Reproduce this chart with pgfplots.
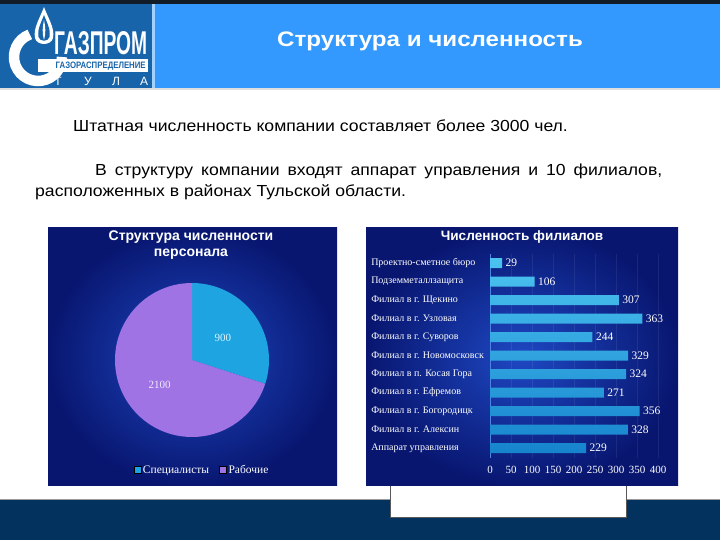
\documentclass[border=0pt]{standalone}
\usepackage{fontspec}
\setmainfont{Liberation Sans}
\newfontfamily\serifc{Liberation Serif}
\usepackage{pgfplots}
\usepackage{pgfplotstable}
\pgfplotsset{compat=1.18}

\definecolor{hdrdark}{RGB}{18,28,40}
\definecolor{logoblue}{RGB}{24,100,170}
\definecolor{hdrblue}{RGB}{51,153,255}
\definecolor{navy}{RGB}{4,50,95}
\definecolor{chartin}{RGB}{30,72,195}
\definecolor{chartout}{RGB}{8,22,112}
\definecolor{pcyan}{RGB}{30,165,225}
\definecolor{ppurple}{RGB}{160,115,228}
\definecolor{bartop}{RGB}{75,195,240}
\definecolor{barbot}{RGB}{22,132,205}
\definecolor{axblue}{RGB}{80,130,230}

% staff structure
\def\spec{900}
\def\work{2100}

\pgfplotstableread[col sep=comma]{
y,name,value
0,Аппарат управления,229
1,Филиал в г. Алексин,328
2,Филиал в г. Богородицк,356
3,Филиал в г. Ефремов,271
4,Филиал в п. Косая Гора,324
5,Филиал в г. Новомосковск,329
6,Филиал в г. Суворов,244
7,Филиал в г. Узловая,363
8,Филиал в г. Щекино,307
9,Подземметаллзащита,106
10,Проектно-сметное бюро,29
}\branches

\begin{document}
\begin{tikzpicture}[x=1pt,y=1pt]
\useasboundingbox (0,0) rectangle (720,540);
\fill[white] (0,0) rectangle (720,540);

% header
\fill[hdrdark] (0,536) rectangle (720,540);
\fill[logoblue] (0,452) rectangle (152,536);
\fill[white!55!hdrblue] (152,452) rectangle (155,536);
\fill[hdrblue] (155,452) rectangle (720,536);
\draw[gray!25, line width=1.5pt] (0,451) -- (720,451);
\node[anchor=base, inner sep=0, text=white, font=\bfseries\fontsize{21}{23}\selectfont]
  at (430,493) {\scalebox{1.15}[1]{Структура и численность}};

% logo
\draw[white, line width=10.5pt] (38,483) ++(110:24) arc[start angle=110, end angle=360, radius=24];
\fill[white] (38,468) rectangle (148,481);
\fill[white] (44,533) .. controls (40,522) and (33,512) .. (35,502)
  .. controls (37,494) and (51,494) .. (53,502) .. controls (55,512) and (48,522) .. (44,533);
\fill[logoblue] (44,525) .. controls (41,517) and (37,510) .. (38.5,503)
  .. controls (40,498) and (48,498) .. (49.5,503) .. controls (51,510) and (47,517) .. (44,525);
\fill[white] (44,520) .. controls (42.5,513) and (42,507) .. (44,500)
  .. controls (46,507) and (45.5,513) .. (44,520);
\node[anchor=south west, inner sep=0, text=white] at (54,485)
  {\resizebox{93pt}{23pt}{\bfseries ГАЗПРОМ}};
\node[anchor=base west, inner sep=0, text=logoblue] at (55.5,471.5)
  {\resizebox{90pt}{6.5pt}{\bfseries ГАЗОРАСПРЕДЕЛЕНИЕ}};
\foreach \xx/\ll in {58/Т,88/У,116/Л,144/А}
  \node[anchor=base, inner sep=0, text=white, font=\fontsize{12}{12}\selectfont] at (\xx,454) {\ll};

% body text
\node[anchor=base west, inner sep=0, font=\fontsize{16}{18}\selectfont] at (73,408)
  {\scalebox{1.1}[1]{Штатная численность компании составляет более 3000 чел.}};
\node[anchor=base west, inner sep=0, font=\fontsize{16}{18}\selectfont] at (95,364)
  {\scalebox{1.1}[1]{\makebox[515.5pt][s]{В структуру компании входят аппарат управления и 10 филиалов,}}};
\node[anchor=base west, inner sep=0, font=\fontsize{16}{18}\selectfont] at (35,343)
  {\scalebox{1.1}[1]{расположенных в районах Тульской области.}};

% bottom band
\fill[navy] (0,0) rectangle (720,40);
\draw[gray!80, line width=1pt] (0,40.5) -- (720,40.5);
\fill[white] (390,22) rectangle (626,54);
\draw[gray!70!black, line width=1pt] (390,54) -- (390,22) -- (626,22) -- (626,54);

% chart panels
\shade[inner color=chartin, outer color=chartout] (48,54) rectangle (337,312);
\shade[inner color=chartin, outer color=chartout] (366,54) rectangle (678,312);

\node[align=center, text=white, font=\bfseries\fontsize{14}{16}\selectfont] at (191,295)
  {Структура численности\\персонала};
\node[text=white, font=\bfseries\fontsize{13.6}{15}\selectfont] at (522,303)
  {Численность филиалов};

% pie
\pgfmathsetmacro\aspec{360*(\spec/(\spec+\work))}
\pgfmathsetmacro\awork{360-\aspec}
\begin{axis}[
  at={(192pt,180pt)}, anchor=center,
  scale only axis, width=154pt, height=154pt,
  xmin=-1, xmax=1, ymin=-1, ymax=1,
  hide axis, clip=false,
  legend columns=2,
  legend image code/.code={\fill[#1] (0pt,-3.5pt) rectangle (7pt,3.5pt);},
  legend style={at={(0.565,-0.214)}, anchor=center, draw=none, fill=none,
    text=white, font=\serifc\fontsize{11.5}{11.5}\selectfont,
    /tikz/every even column/.append style={column sep=8pt}},
]
\addlegendimage{fill=pcyan}
\addlegendentry{Специалисты}
\addlegendimage{fill=ppurple}
\addlegendentry{Рабочие}
\fill[pcyan] (axis cs:0,0) -- (axis cs:0,1)
  arc[start angle=90, delta angle=-\aspec, radius=77pt] -- cycle;
\fill[ppurple] (axis cs:0,0) -- (axis cs:0,1)
  arc[start angle=90, delta angle=\awork, radius=77pt] -- cycle;
\node[text=white!85!pcyan, font=\serifc\fontsize{11}{11}\selectfont] at (axis cs:0.40,0.29) {\spec};
\node[text=white!85!ppurple, font=\serifc\fontsize{11}{11}\selectfont] at (axis cs:-0.42,-0.32) {\work};
\end{axis}

% branches
\begin{axis}[
  at={(490pt,82pt)}, anchor=south west,
  scale only axis, width=168pt, height=204pt,
  xbar, bar width=10pt,
  xmin=0, xmax=400, ymin=-0.54, ymax=10.49,
  xtick={0,50,...,400},
  ytick=data, yticklabels from table={\branches}{name},
  axis lines*=left,
  x axis line style={draw=none},
  y axis line style={draw=axblue, line width=1pt},
  tick style={draw=none},
  xmajorgrids, major grid style={draw=white, opacity=0.07},
  /pgf/number format/assume math mode=true,
  x tick label style={font=\serifc\fontsize{11}{11}\selectfont, text=white, yshift=-5pt},
  y tick label style={font=\serifc\fontsize{10}{10}\selectfont, text=white,
    anchor=west, xshift=-118pt},
  point meta=x,
  nodes near coords,
  nodes near coords style={font=\serifc\fontsize{11.5}{12}\selectfont, text=white},
]
\addplot[draw=none, top color=bartop, bottom color=barbot]
  table[x=value, y=y]{\branches};
\end{axis}
\end{tikzpicture}
\end{document}
